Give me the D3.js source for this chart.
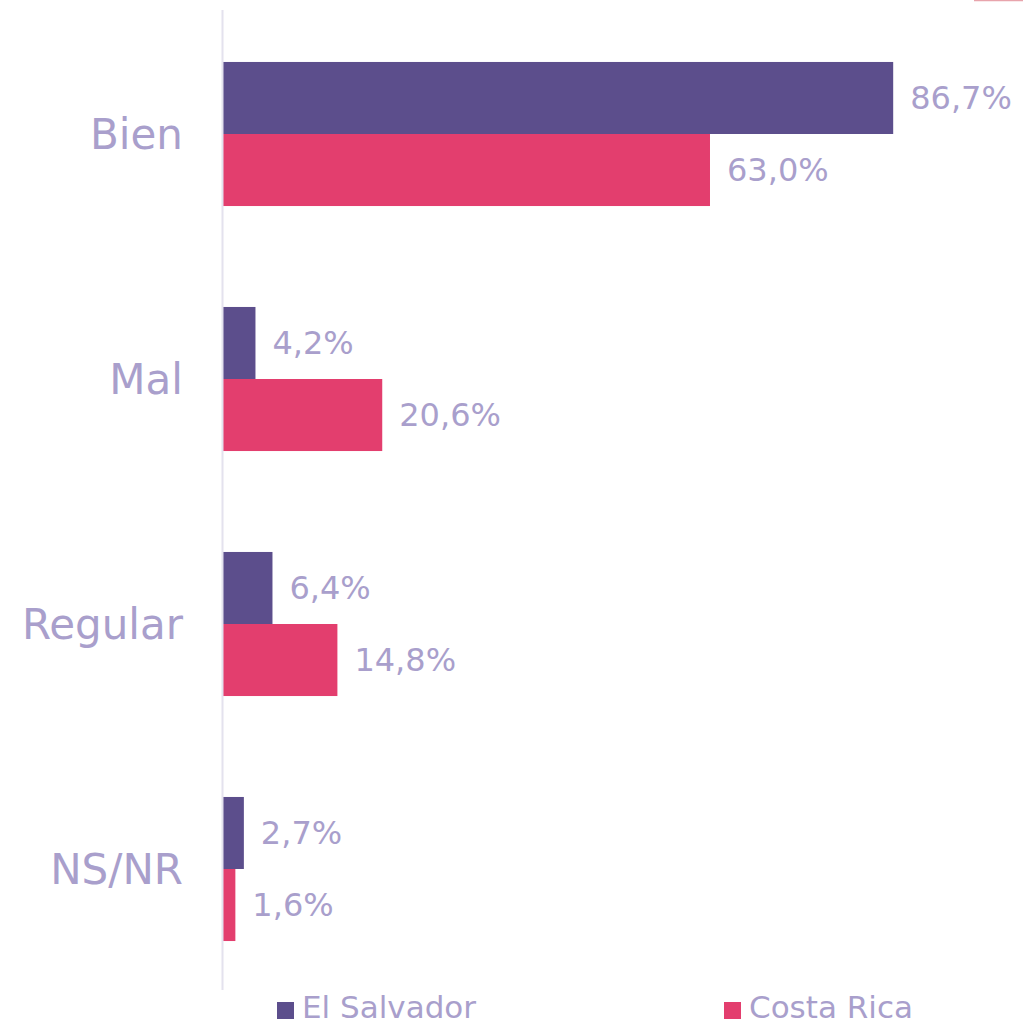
<!DOCTYPE html>
<html>
<head>
<meta charset="utf-8">
<script src="https://cdn.jsdelivr.net/npm/d3@7"></script>
<style>
  html, body { margin: 0; padding: 0; background: #fff; }
  svg { display: block; font-family: 'DejaVu Sans', Verdana, sans-serif; }
</style>
</head>
<body>
<div class="js-container"></div>
<script>
  'use strict';

  var categories = ['Bien', 'Mal', 'Regular', 'NS/NR'];
  var seriesNames = ['El Salvador', 'Costa Rica'];
  var elSalvador = [86.7, 4.2, 6.4, 2.7];
  var costaRica = [63.0, 20.6, 14.8, 1.6];
  var colors = ['#5c4e8c', '#e33e6e'];

  var W = 1023, H = 1025;
  var textColor = '#a99fcc';
  var fmt = function(v) { return d3.format('.1f')(v).replace('.', ',') + '%'; };

  var svg = d3.select('.js-container').append('svg')
      .attr('width', W)
      .attr('height', H);

  var x = d3.scaleLinear().domain([0, 100]).range([223, 996]);

  var y = d3.scaleBand()
      .domain(categories)
      .range([11.5, 991.5])
      .paddingInner(0.412)
      .paddingOuter(0.206);

  var ySub = d3.scaleBand()
      .domain(seriesNames)
      .range([0, y.bandwidth()]);

  var rows = categories.map(function(c, i) {
    return { cat: c, values: [elSalvador[i], costaRica[i]] };
  });

  // thin line at the very top right
  svg.append('line')
      .attr('x1', 974).attr('x2', W)
      .attr('y1', 0.5).attr('y2', 0.5)
      .attr('stroke', '#e8a4ac')
      .attr('stroke-width', 1.5);

  var groups = svg.selectAll('.group')
      .data(rows)
    .enter().append('g')
      .attr('class', 'group')
      .attr('transform', function(d) { return 'translate(0,' + y(d.cat) + ')'; });

  groups.selectAll('rect')
      .data(function(d) { return d.values.map(function(v, j) { return { v: v, s: seriesNames[j], j: j }; }); })
    .enter().append('rect')
      .attr('x', x(0))
      .attr('y', function(d) { return ySub(d.s); })
      .attr('width', function(d) { return x(d.v) - x(0); })
      .attr('height', ySub.bandwidth())
      .attr('fill', function(d) { return colors[d.j]; });

  groups.selectAll('.val')
      .data(function(d) { return d.values.map(function(v, j) { return { v: v, s: seriesNames[j] }; }); })
    .enter().append('text')
      .attr('class', 'val')
      .attr('x', function(d) { return x(d.v) + 17; })
      .attr('y', function(d) { return ySub(d.s) + ySub.bandwidth() / 2; })
      .attr('dy', '0.35em')
      .attr('font-size', 32)
      .attr('fill', textColor)
      .text(function(d) { return fmt(d.v); });

  // category axis
  svg.append('line')
      .attr('x1', 222.5).attr('x2', 222.5)
      .attr('y1', 10).attr('y2', 990)
      .attr('stroke', '#e4e2ee')
      .attr('stroke-width', 2);

  svg.selectAll('.cat')
      .data(categories)
    .enter().append('text')
      .attr('class', 'cat')
      .attr('x', 183)
      .attr('y', function(d) { return y(d) + y.bandwidth() / 2; })
      .attr('dy', '0.35em')
      .attr('text-anchor', 'end')
      .attr('font-size', 42)
      .attr('fill', textColor)
      .text(function(d) { return d; });

  // legend
  var legendX = [277, 724];
  var legend = svg.selectAll('.legend')
      .data(seriesNames)
    .enter().append('g')
      .attr('class', 'legend')
      .attr('transform', function(d, i) { return 'translate(' + legendX[i] + ',1002)'; });

  legend.append('rect')
      .attr('width', 17)
      .attr('height', 17)
      .attr('fill', function(d, i) { return colors[i]; });

  legend.append('text')
      .attr('x', 25)
      .attr('y', 16)
      .attr('font-size', 31)
      .attr('fill', textColor)
      .text(function(d) { return d; });
</script>
</body>
</html>
